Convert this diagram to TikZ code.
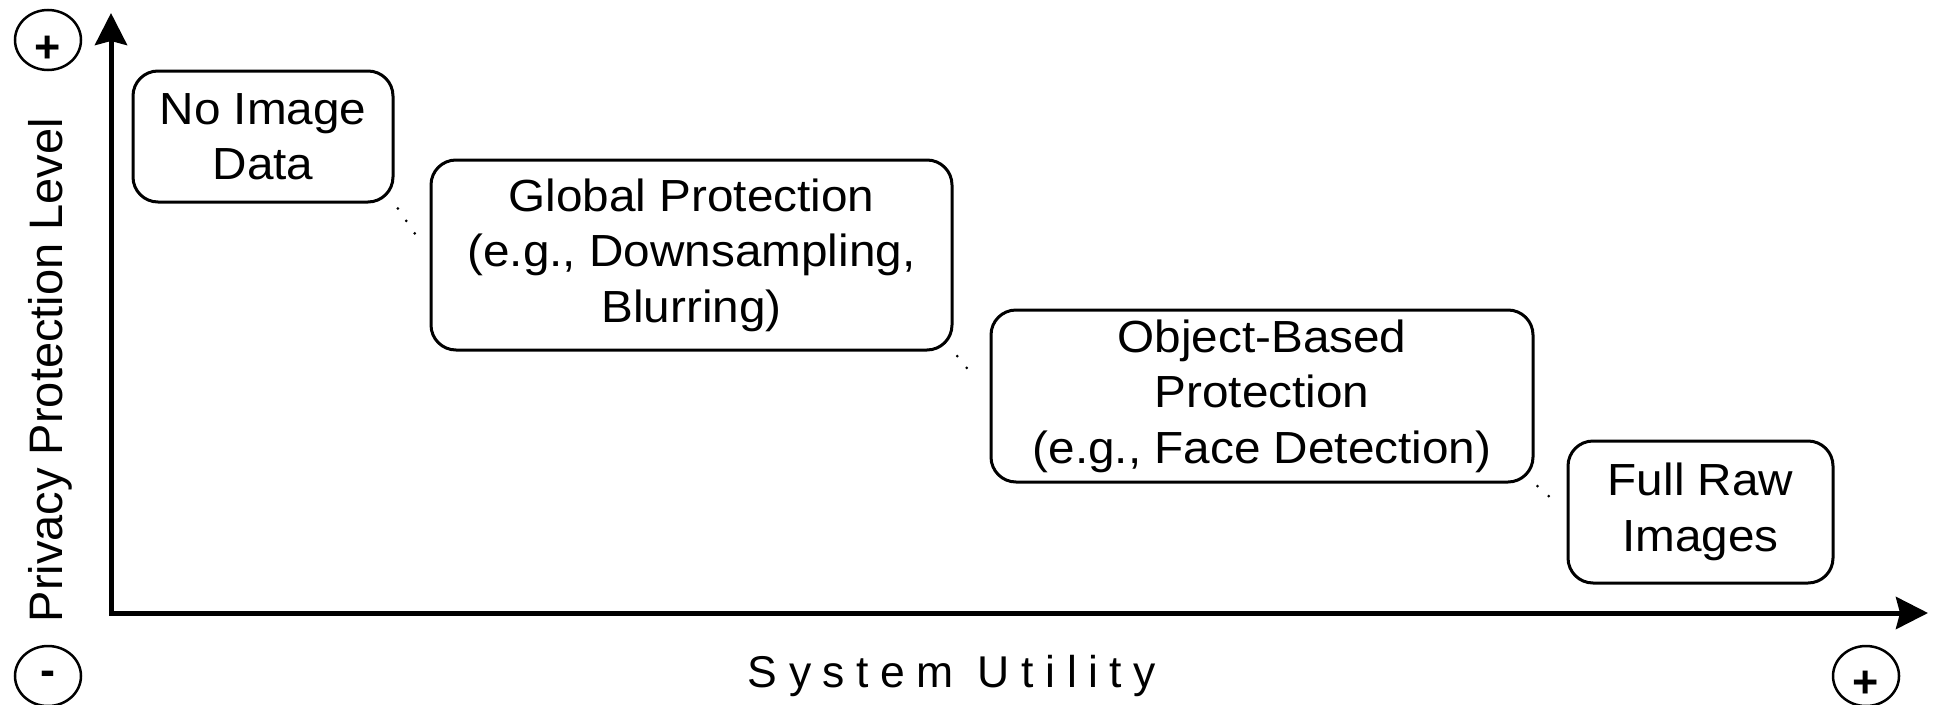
\documentclass[tikz,border=0pt]{standalone}
\usepackage{fontspec}
\setmainfont{Liberation Sans}
\newfontfamily\boxfont{Liberation Sans}[FakeStretch=1.06]
\newfontfamily\spacedfont{Liberation Sans}[LetterSpace=26]
\usetikzlibrary{arrows.meta,shapes.geometric}

\tikzset{
  stage/.style={draw, line width=3pt, rounded corners=25pt, fill=white,
    align=center, inner sep=0pt,
    font=\boxfont\fontsize{45}{55.5}\selectfont},
  axis/.style={line width=5pt, {Stealth[length=32pt,width=32pt,inset=4pt]}-{Stealth[length=32pt,width=32pt,inset=4pt]}},
  trend/.style={line width=3pt, line cap=round, dash pattern=on 0pt off 15pt, black},
  signring/.style={draw, ellipse, line width=2.5pt, minimum width=66pt,
    minimum height=60pt, inner sep=0pt},
  sign/.style={font=\bfseries\fontsize{45}{45}\selectfont, inner sep=0pt, anchor=base},
}

\begin{document}
\begin{tikzpicture}[x=1pt,y=-1pt]
  % canvas
  \path[fill=white,use as bounding box] (0,0) rectangle (1934,704);

  % axes
  \coordinate (origin) at (111,613);
  \coordinate (ytip) at (111,13);
  \coordinate (xtip) at (1928,613);
  \draw[axis] (ytip) -- (origin) -- (xtip);

  % stages along the privacy / utility trade-off
  \node[stage, minimum width=260pt, minimum height=131pt] (b1) at (263,136.5)
    {No Image\\Data};
  \node[stage, minimum width=521pt, minimum height=190pt] (b2) at (691.5,255)
    {Global Protection\\(e.g., Downsampling,\\Blurring)};
  \node[stage, minimum width=542pt, minimum height=172pt] (b3) at (1262,396)
    {Object-Based\\Protection\\(e.g., Face Detection)};
  \node[stage, minimum width=265pt, minimum height=142pt] (b4) at (1700.5,512)
    {Full Raw\\Images};

  % dotted links between consecutive stages
  \draw[trend, shorten <=6pt, shorten >=26pt] (b1.south east) -- (b2.west);
  \draw[trend, shorten <=6pt, shorten >=22pt] (b2.south east) -- (b3.west);
  \draw[trend, shorten <=4pt, shorten >=11pt] (b3.south east) -- (b4.west);

  % axis titles
  \node[rotate=90, anchor=base, inner sep=0pt,
        font=\fontsize{47}{47}\selectfont] (ylab) at (62,370)
    {Privacy Protection Level};
  \node[anchor=base, inner sep=0pt,
        font=\spacedfont\fontsize{44.5}{44.5}\selectfont] (xlab) at (952,687)
    {System Utility};

  % +/- markers at the axis ends (placed by baseline)
  \node[signring] (ytopring) at (48,40) {};
  \node[sign] (ytopsign) at (48,62) {+};
  \node[signring] (lowring) at (48,676) {};
  \node[sign] (lowsign) at (48,685) {-};
  \node[signring] (xendring) at (1866,676) {};
  \node[sign] (xendsign) at (1865.5,697) {+};
\end{tikzpicture}
\end{document}
